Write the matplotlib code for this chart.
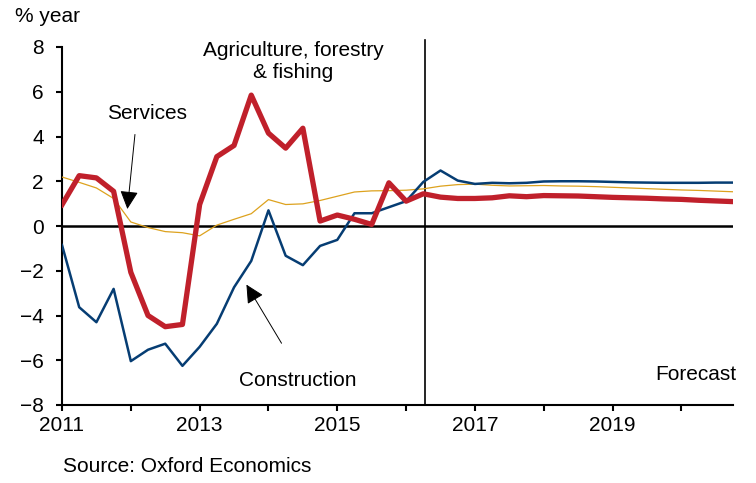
import matplotlib
matplotlib.use("Agg")
import matplotlib.pyplot as plt
import numpy as np

plt.rcParams["font.family"] = ["Liberation Sans", "DejaVu Sans"]

# Quarterly, 2011Q1 .. 2020Q4
quarters = np.arange(2011, 2021, 0.25)

agriculture = [0.95, 2.25, 2.15, 1.55, -2.07, -4.0, -4.5, -4.4,
               0.96, 3.1, 3.6, 5.85, 4.15, 3.48, 4.37, 0.22,
               0.49, 0.3, 0.07, 1.93, 1.11, 1.44, 1.29, 1.23,
               1.23, 1.26, 1.35, 1.31, 1.36, 1.35, 1.34, 1.31,
               1.28, 1.26, 1.24, 1.21, 1.19, 1.15, 1.12, 1.09]

construction = [-0.85, -3.63, -4.3, -2.81, -6.04, -5.53, -5.26, -6.25,
                -5.4, -4.37, -2.74, -1.56, 0.7, -1.33, -1.75, -0.89,
                -0.62, 0.57, 0.57, 0.84, 1.11, 1.97, 2.48, 2.03,
                1.88, 1.93, 1.91, 1.93, 1.99, 2.0, 2.0, 1.99,
                1.97, 1.95, 1.94, 1.93, 1.93, 1.93, 1.94, 1.94]

services = [2.19, 1.95, 1.7, 1.23, 0.18, -0.07, -0.25, -0.3,
            -0.44, 0.04, 0.3, 0.55, 1.18, 0.96, 0.99, 1.14,
            1.33, 1.52, 1.57, 1.58, 1.6, 1.66, 1.78, 1.85,
            1.87, 1.82, 1.79, 1.8, 1.81, 1.79, 1.78, 1.76,
            1.73, 1.7, 1.67, 1.64, 1.61, 1.59, 1.56, 1.53]

year_ticks = list(range(2011, 2021))
year_labels = [str(y) if y % 2 == 1 else "" for y in year_ticks]
forecast_start = 2016.28

RED = "#C0202B"
BLUE = "#063D73"
GOLD = "#DDA21E"
FS = 15

fig = plt.figure(figsize=(7.56, 4.83), dpi=100)
ax = fig.add_axes([62 / 756, 1 - 405 / 483, (733 - 62) / 756, (405 - 47) / 483])

ax.plot(quarters, services, color=GOLD, lw=0.9, zorder=3)
ax.plot(quarters, construction, color=BLUE, lw=1.8, zorder=4)
ax.plot(quarters, agriculture, color=RED, lw=3.8, zorder=5)

ax.axhline(0, color="black", lw=1.8, zorder=2)
ax.axvline(forecast_start, ymin=0, ymax=1.02, color="black", lw=1.2,
           clip_on=False, zorder=2)

ax.set_xlim(2011, 2020.75)
ax.set_ylim(-8, 8)
ax.set_xticks(year_ticks)
ax.set_xticklabels(year_labels)
ax.set_yticks(range(-8, 9, 2))

for s in ("top", "right"):
    ax.spines[s].set_visible(False)
for s in ("left", "bottom"):
    ax.spines[s].set_linewidth(1.5)
ax.tick_params(direction="out", length=4, width=1.5, labelsize=FS)
ax.tick_params(axis="x", pad=4)
ax.tick_params(axis="y", pad=9)

# Labels
ax.text(2014.36, 7.35, "Agriculture, forestry\n& fishing", ha="center",
        va="center", fontsize=FS, linespacing=1.2)
ax.text(2012.23, 5.02, "Services", ha="center", va="center", fontsize=FS)
ax.annotate("", xy=(2011.95, 0.76), xytext=(2012.06, 4.09),
            arrowprops=dict(arrowstyle="-|>", mutation_scale=28, lw=0.7,
                            color="black", shrinkA=0, shrinkB=0))
ax.text(2014.43, -6.9, "Construction", ha="center", va="center", fontsize=FS)
ax.annotate("", xy=(2013.68, -2.62), xytext=(2014.19, -5.24),
            arrowprops=dict(arrowstyle="-|>", mutation_scale=28, lw=0.7,
                            color="black", shrinkA=0, shrinkB=0))
ax.text(2020.8, -6.62, "Forecast", ha="right", va="center", fontsize=FS)

fig.text(15 / 756, 1 - 16.5 / 483, "% year", ha="left", va="center", fontsize=FS)
fig.text(63 / 756, 1 - 466 / 483, "Source: Oxford Economics", ha="left",
         va="center", fontsize=FS)

fig.savefig("out.png", dpi=100, facecolor="white")
